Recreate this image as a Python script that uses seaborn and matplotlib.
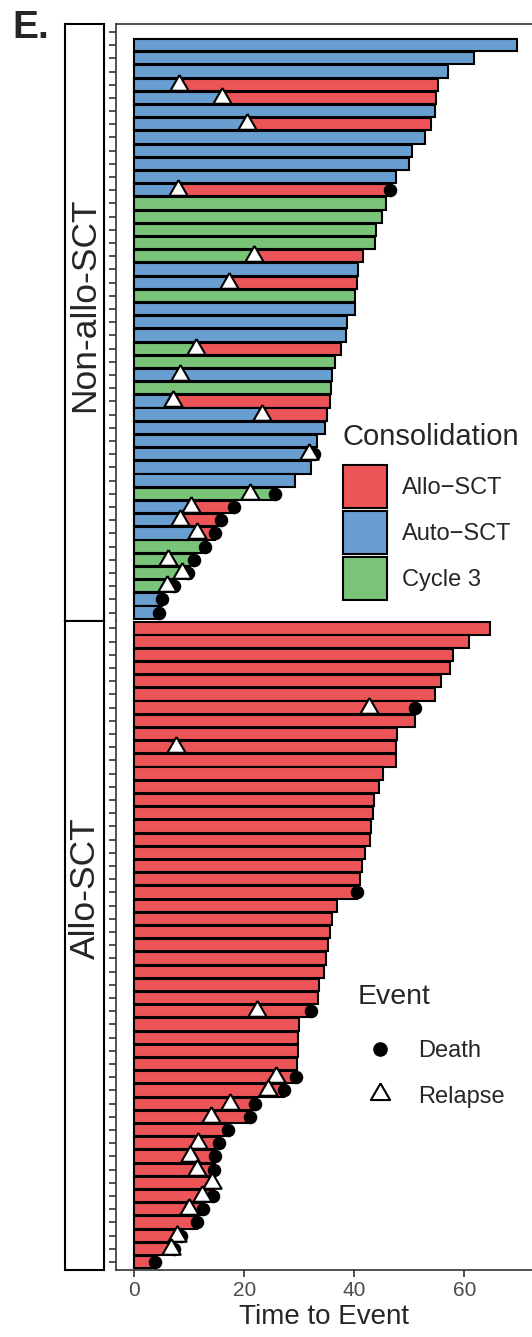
import matplotlib
matplotlib.use("Agg")
import matplotlib.pyplot as plt
import numpy as np
import pandas as pd
import seaborn as sns
from matplotlib.patches import Patch
from matplotlib.lines import Line2D

sns.set_style("ticks")
plt.rcParams['font.family'] = ['Liberation Sans', 'DejaVu Sans']

# ---- data: Non-allo-SCT panel, top to bottom ----
non_cons = ['Auto-SCT'] * 12 + ['Cycle 3'] * 5 + ['Auto-SCT', 'Auto-SCT', 'Cycle 3',
            'Auto-SCT', 'Auto-SCT', 'Auto-SCT', 'Cycle 3', 'Cycle 3', 'Auto-SCT',
            'Cycle 3', 'Auto-SCT', 'Auto-SCT', 'Auto-SCT', 'Auto-SCT', 'Auto-SCT',
            'Auto-SCT', 'Auto-SCT', 'Cycle 3', 'Auto-SCT', 'Auto-SCT', 'Auto-SCT',
            'Cycle 3', 'Cycle 3', 'Cycle 3', 'Cycle 3', 'Auto-SCT', 'Auto-SCT']
non_time = [69.6, 61.8, 57.0, 55.3, 54.8, 54.7, 54.0, 52.9, 50.5, 50.0, 47.5, 46.5,
            45.8, 45.1, 44.0, 43.7, 41.5, 40.6, 40.4, 40.2, 40.1, 38.7, 38.5, 37.6,
            36.5, 36.0, 35.8, 35.6, 35.0, 34.7, 33.3, 32.6, 32.2, 29.3, 25.6, 18.1,
            15.7, 14.7, 12.9, 10.8, 9.7, 7.3, 5.1, 4.4]
non_relapse = [None, None, None, 8.1, 16.0, None, 20.5, None, None, None, None, 8.0,
               None, None, None, None, 21.7, None, 17.3, None, None, None, None, 11.3,
               None, 8.3, None, 7.0, 23.3, None, None, 31.7, None, None, 21.0, 10.3,
               8.3, 11.4, None, 6.1, 8.7, 5.9, None, None]
non_death = [0] * 11 + [1] + [0] * 19 + [1, 0, 0, 1, 1, 1, 1, 1, 1, 1, 1, 1, 1]
# bar turns to Allo-SCT after relapse
non_switch = [0, 0, 0, 1, 1, 0, 1, 0, 0, 0, 0, 1, 0, 0, 0, 0, 1, 0, 1, 0, 0, 0, 0, 1,
              0, 0, 0, 1, 1, 0, 0, 0, 0, 0, 0, 1, 1, 1, 0, 0, 0, 0, 0, 0]

# ---- data: Allo-SCT panel, top to bottom ----
allo_time = [64.6, 60.9, 58.0, 57.4, 55.7, 54.7, 51.1, 51.0, 47.8, 47.5, 47.5, 45.3,
             44.4, 43.5, 43.4, 43.0, 42.8, 42.0, 41.4, 41.1, 40.5, 36.9, 35.9, 35.5,
             35.3, 34.9, 34.5, 33.5, 33.4, 32.1, 29.9, 29.8, 29.7, 29.6, 29.4, 27.2,
             21.9, 21.0, 17.0, 15.4, 14.6, 14.5, 14.4, 14.3, 12.4, 11.4, 8.5, 7.3, 3.7]
allo_relapse = [None] * 6 + [42.7, None, None, 7.5] + [None] * 19 + [22.3] + [None] * 4 + \
               [25.8, 24.3, 17.4, 13.9, None, 11.5, 10.2, 11.4, 14.2, 12.3, 9.9, None,
                7.8, 6.7, None]
allo_death = [0] * 6 + [1] + [0] * 13 + [1] + [0] * 8 + [1] + [0] * 4 + \
             [1, 1, 1, 1, 1, 1, 1, 1, 0, 1, 1, 1, 1, 1, 1]

pal = {'Allo-SCT': '#EC5457', 'Auto-SCT': '#689ED0', 'Cycle 3': '#79C478'}
# equilateral triangle, closed path
tri = [(0, 1.155), (-1, -0.577), (1, -0.577), (0, 1.155)]

df_non = pd.DataFrame({'row': np.arange(1, len(non_time) + 1), 'cons': non_cons,
                       'time': non_time, 'relapse': non_relapse,
                       'death': non_death, 'switch': non_switch})
df_non['relapse'] = df_non['relapse'].astype(float)
df_non['outer'] = np.where(df_non['switch'] == 1, 'Allo-SCT', df_non['cons'])

df_allo = pd.DataFrame({'row': np.arange(len(allo_time)), 'cons': 'Allo-SCT',
                        'time': allo_time, 'relapse': allo_relapse,
                        'death': allo_death, 'switch': 0})
df_allo['relapse'] = df_allo['relapse'].astype(float)
df_allo['outer'] = df_allo['cons']

W, H = 532, 1337
fig = plt.figure(figsize=(W / 100, H / 100), dpi=100)

top_px, mid_px, bot_px = 24, 620.5, 1270
left_px, right_px = 116, 532
ax1 = fig.add_axes([left_px / W, 1 - mid_px / H, (right_px - left_px) / W, (mid_px - top_px) / H])
ax2 = fig.add_axes([left_px / W, 1 - bot_px / H, (right_px - left_px) / W, (bot_px - mid_px) / H])

spine_col = '#333333'
for ax, df, nslot in [(ax1, df_non, 45), (ax2, df_allo, 49)]:
    sns.barplot(data=df, x='time', y='row', hue='outer', palette=pal, orient='h',
                native_scale=True, dodge=False, width=0.93, saturation=1,
                edgecolor='black', linewidth=1.5, errorbar=None, legend=False, ax=ax)
    sw = df[df['switch'] == 1]
    if len(sw):
        sns.barplot(data=sw, x='relapse', y='row', hue='cons', palette=pal, orient='h',
                    native_scale=True, dodge=False, width=0.93, saturation=1,
                    edgecolor='black', linewidth=1.5, errorbar=None, legend=False, ax=ax)
    sns.scatterplot(data=df[df['death'] == 1], x='time', y='row', color='black',
                    marker='o', s=95, linewidth=0, legend=False, ax=ax, zorder=4)
    sns.scatterplot(data=df.dropna(subset=['relapse']), x='relapse', y='row',
                    color='white', marker=tri, s=230, edgecolor='black', linewidth=1.5,
                    legend=False, ax=ax, zorder=5)
    ax.set_ylim(nslot - 0.4, -0.6)
    ax.set_xlim(-3.33, 72.3)
    ax.set_yticks(range(nslot))
    ax.set_yticklabels([])
    ax.set_ylabel('')
    ax.set_xlabel('')
    ax.tick_params(axis='y', length=5, width=1.2, color=spine_col)
    for s in ['left', 'top', 'bottom', 'right']:
        ax.spines[s].set_color(spine_col)
        ax.spines[s].set_linewidth(1.2)
    ax.spines['right'].set_visible(False)

ax1.spines['bottom'].set_visible(False)
ax1.tick_params(axis='x', bottom=False, labelbottom=False)
ax2.spines['top'].set_visible(False)
ax2.set_xticks([0, 20, 40, 60])
ax2.tick_params(axis='x', length=5, width=1.2, color=spine_col, labelsize=15,
                labelcolor='#4D4D4D', pad=3)
ax2.set_xlabel('Time to Event', fontsize=20, labelpad=3)

# facet strips on the left (label centres)
for lab, y0, y1, yc in [('Non-allo-SCT', top_px, mid_px, 305), ('Allo-SCT', mid_px, bot_px, 888)]:
    sax = fig.add_axes([65 / W, 1 - y1 / H, 39 / W, (y1 - y0) / H])
    sax.set_xticks([])
    sax.set_yticks([])
    for s in sax.spines.values():
        s.set_color('black')
        s.set_linewidth(1.5)
    fig.text(85 / W, 1 - yc / H, lab, rotation=90, ha='center', va='center',
             fontsize=25.5)

fig.text(12 / W, 1 - 38 / H, 'E.', fontsize=28, fontweight='bold', va='baseline')

# legends
fig.text(343 / W, 1 - 437 / H, 'Consolidation', fontsize=21, va='center')
cons_handles = [Patch(facecolor=pal[k], edgecolor='black', linewidth=1.5) for k in pal]
fig.legend(cons_handles, ['Allo\u2212SCT', 'Auto\u2212SCT', 'Cycle 3'],
           loc='upper left', bbox_to_anchor=(343 / W, 1 - 465 / H), frameon=False,
           fontsize=17, borderpad=0, borderaxespad=0, handlelength=1.86,
           handleheight=2.43, labelspacing=0.13, handletextpad=0.64)

fig.text(358 / W, 1 - 997 / H, 'Event', fontsize=20.5, va='center')
ev_handles = [Line2D([], [], marker='o', color='black', linestyle='none', markersize=9.5),
              Line2D([], [], marker=tri, markerfacecolor='white', markeredgecolor='black',
                     markeredgewidth=1.5, linestyle='none', markersize=16)]
fig.legend(ev_handles, ['Death', 'Relapse'], loc='upper left',
           bbox_to_anchor=(358 / W, 1 - 1040 / H), frameon=False, fontsize=17,
           borderpad=0, borderaxespad=0, handlelength=1.86, handleheight=0.7,
           labelspacing=1.0, handletextpad=0.68)

fig.savefig('out.png', dpi=100)
